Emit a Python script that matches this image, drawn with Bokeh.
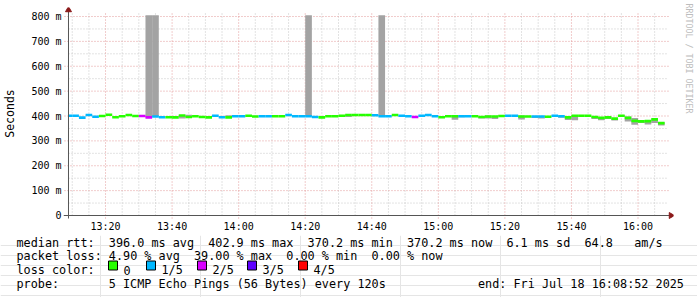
import re
from math import pi
import pandas as pd
from bokeh.plotting import figure
from bokeh.models import Range1d, FixedTicker, DatetimeTickFormatter, LinearAxis, ColumnDataSource
from bokeh.core.properties import value
from bokeh.embed import file_html
from bokeh.resources import INLINE

# ---------------- data ----------------
range_start = "2025-07-18 13:08:52"
range_end = "2025-07-18 16:08:52"
first_step = "2025-07-18 13:08:00"
step_minutes = 2

median_ms = [401, 401, 393, 404, 397, 400, 405, 395, 399, 404,
             400, 400, 394, 398, 395, 395, 394, 402, 396, 399,
             396, 394, 401, 395, 394, 399, 399, 401, 398, 399,
             399, 399, 399, 404, 399, 399, 399, 396, 394, 399,
             399, 401, 404, 404, 404, 404, 403, 399, 399, 404,
             401, 399, 396, 401, 404, 399, 395, 399, 399, 399,
             399, 399, 396, 398, 398, 400, 401, 401, 398, 398,
             398, 398, 397, 401, 399, 394, 401, 401, 401, 396,
             392, 394, 389, 401, 392, 380, 378, 379, 386, 371]
loss_idx = [1, 1, 1, 1, 1, 0, 0, 0, 0, 0,
            0, 2, 2, 1, 1, 0, 0, 0, 0, 0,
            0, 0, 1, 1, 0, 1, 1, 0, 0, 1,
            1, 0, 0, 1, 1, 1, 1, 1, 0, 0,
            0, 0, 0, 0, 0, 0, 1, 1, 1, 0,
            1, 1, 2, 1, 1, 1, 0, 0, 0, 1,
            1, 0, 0, 0, 0, 0, 1, 1, 0, 0,
            1, 1, 0, 1, 1, 0, 0, 0, 0, 0,
            0, 0, 0, 0, 0, 0, 0, 0, 0, 0]

smoke_step = [12, 13, 17, 18, 24, 36, 42, 47, 57, 58, 59, 62, 63, 64, 65, 68,
              70, 71, 74, 75, 76, 79, 80, 81, 82, 83, 84, 85, 86, 87, 88, 89]
smoke_lo = [394, 398, 390, 396, 394, 399, 396, 399, 399, 385, 395, 390, 390, 388, 400, 386,
            392, 390, 393, 384, 383, 388, 383, 388, 382, 396, 378, 365, 372, 366, 372, 362]
smoke_hi = [805, 805, 402, 405, 403, 805, 404, 805, 404, 404, 402, 398, 402, 400, 403, 402,
            400, 400, 400, 396, 401, 398, 394, 398, 390, 404, 398, 392, 384, 384, 390, 375]

loss_labels = ["0", "1/5", "2/5", "3/5", "4/5"]
loss_colors = ["#26ff00", "#00b8ff", "#d800ff", "#5e00ff", "#ff0000"]

y_ticks = [0, 100, 200, 300, 400, 500, 600, 700, 800]
y_tick_labels = ["0", "100 m", "200 m", "300 m", "400 m", "500 m", "600 m", "700 m", "800 m"]
x_tick_labels = ["13:20", "13:40", "14:00", "14:20", "14:40", "15:00", "15:20", "15:40", "16:00"]

row_rtt = "median rtt:  396.0 ms avg  402.9 ms max  370.2 ms min  370.2 ms now  6.1 ms sd  64.8   am/s"
row_loss = "packet loss: 4.90 % avg  39.00 % max  0.00 % min  0.00 % now"
row_color = "loss color:"
row_probe = "probe:       5 ICMP Echo Pings (56 Bytes) every 120s             end: Fri Jul 18 16:08:52 2025"
y_label = "Seconds"
watermark = "RRDTOOL / TOBI OETIKER"

# ---------------- scale helpers (layout) ----------------
def ms(ts):
    return pd.Timestamp(ts).value / 1e6

t0, t1 = ms(range_start), ms(range_end)
step0 = ms(first_step)
step_ms = step_minutes * 60000
day = first_step[:10]

AX_X, AX_Y = 67, 215            # canvas px of the axes crossing
S_PER_PX = 18.0                 # seconds per pixel on the time axis
MS_PER_PX = 800.0 / 199.0       # milliseconds (rtt) per pixel

def xd(px):
    return t0 + (px - AX_X) * S_PER_PX * 1000.0

def yd(py):
    return (AX_Y - py) * MS_PER_PX

FL, FR, FT, FB = 62, 673, 7, 219
W = 697
H1 = 235

MONO = "DejaVu Sans Mono"
MAJOR_C = "#e39a9a"
MINOR_C = "#c6c6c6"
AXIS_C = "#555555"
ARROW_C = "#8b1a1a"

# ---------------- main chart ----------------
p = figure(width=W, height=H1, x_axis_type="datetime", title=None,
           x_range=Range1d(xd(FL), xd(FR)), y_range=Range1d(yd(FB), yd(FT)),
           output_backend="svg", toolbar_location=None,
           min_border_left=FL, min_border_right=W - FR,
           min_border_top=FT, min_border_bottom=H1 - FB)
p.outline_line_color = None
p.background_fill_color = "white"
p.border_fill_color = "white"
p.xgrid.visible = False
p.ygrid.visible = False

x_major = [ms(f"{day} {t}") for t in x_tick_labels]
x_minor = [ms(f"{day} 13:10") + i * 300000 for i in range(36)]
x_minor = [v for v in x_minor if v not in x_major]
y_minor = [v + 50 for v in y_ticks[:-1]]

p.xaxis.ticker = FixedTicker(ticks=x_major, minor_ticks=[])
p.xaxis.formatter = DatetimeTickFormatter(minutes="%H:%M", hourmin="%H:%M",
                                          hours="%H:%M", minsec="%H:%M")
p.yaxis.ticker = FixedTicker(ticks=y_ticks, minor_ticks=[])
p.yaxis.major_label_overrides = {v: s for v, s in zip(y_ticks, y_tick_labels)}
for ax in (p.xaxis, p.yaxis):
    ax.axis_line_color = None
    ax.major_tick_line_color = None
    ax.minor_tick_line_color = None
    ax.major_tick_in = 0
    ax.major_tick_out = 0
    ax.minor_tick_in = 0
    ax.minor_tick_out = 0
    ax.major_label_text_font = MONO
    ax.major_label_text_font_size = "10px"
    ax.major_label_text_color = "#000000"
p.yaxis.major_label_standoff = 2
p.xaxis.major_label_standoff = 1
p.yaxis.axis_label = y_label
p.yaxis.axis_label_text_font = MONO
p.yaxis.axis_label_text_font_size = "11.5px"
p.yaxis.axis_label_text_font_style = "normal"
p.yaxis.axis_label_text_color = "#000000"
p.yaxis.axis_label_standoff = 11

wm = LinearAxis(ticker=FixedTicker(ticks=[]), axis_line_color=None,
                major_tick_out=0, major_tick_in=0, minor_tick_out=0, minor_tick_in=0,
                axis_label=watermark + "\u00a0" * 22,
                axis_label_text_font=MONO, axis_label_text_font_size="8.3px",
                axis_label_text_font_style="normal", axis_label_text_color="#bdbdbd",
                axis_label_standoff=10)
p.add_layout(wm, "right")

# grid (dotted), drawn from the tick lists
p.segment(x0=[xd(AX_X)] * len(y_minor), y0=y_minor, x1=[xd(668)] * len(y_minor), y1=y_minor,
          line_color=MINOR_C, line_dash="1 2", line_width=1)
p.segment(x0=x_minor, y0=[0] * len(x_minor), x1=x_minor, y1=[yd(13)] * len(x_minor),
          line_color=MINOR_C, line_dash="1 2", line_width=1)
p.segment(x0=[xd(63)] * len(y_ticks[1:]), y0=y_ticks[1:], x1=[xd(668)] * len(y_ticks[1:]),
          y1=y_ticks[1:], line_color=MAJOR_C, line_dash="1 2", line_width=1)
p.segment(x0=x_major, y0=[yd(218)] * len(x_major), x1=x_major, y1=[yd(13)] * len(x_major),
          line_color=MAJOR_C, line_dash="1 2", line_width=1)

# smoke
sm = ColumnDataSource(dict(
    left=[step0 + k * step_ms for k in smoke_step],
    right=[step0 + (k + 1) * step_ms for k in smoke_step],
    bottom=smoke_lo, top=smoke_hi))
p.quad(left="left", right="right", bottom="bottom", top="top", source=sm,
       fill_color="#a3a3a3", line_color=None)

# median band coloured by loss
half = 5.5
n = len(median_ms)
md = ColumnDataSource(dict(
    left=[max(step0 + k * step_ms, t0) for k in range(n)],
    right=[step0 + (k + 1) * step_ms for k in range(n)],
    bottom=[m - half for m in median_ms],
    top=[m + half for m in median_ms],
    color=[loss_colors[i] for i in loss_idx]))
p.quad(left="left", right="right", bottom="bottom", top="top", source=md,
       fill_color="color", line_color=None)

# axes lines with arrows
p.segment(x0=[xd(62)], y0=[0], x1=[xd(670)], y1=[0], line_color=AXIS_C, line_width=1)
p.segment(x0=[t0], y0=[yd(218)], x1=[t0], y1=[yd(10)], line_color=AXIS_C, line_width=1)
p.triangle(x=[t0], y=[yd(9.5)], size=6, fill_color=ARROW_C, line_color=ARROW_C)
p.triangle(x=[xd(670.5)], y=[0], size=6, angle=-pi / 2, fill_color=ARROW_C, line_color=ARROW_C)

# ---------------- legend area (second root, directly below) ----------------
H2 = 297 - H1
GAP = 3.5   # vertical offset between the two page roots
q = figure(width=W, height=H2, x_range=Range1d(0, W), y_range=Range1d(H2, 0),
           output_backend="svg", toolbar_location=None, title=None,
           x_axis_location=None, y_axis_location=None,
           min_border=0, min_border_left=0, min_border_right=0,
           min_border_top=0, min_border_bottom=0)
q.outline_line_color = None
q.background_fill_color = "white"
q.border_fill_color = "white"

def qy(Y):
    return Y - H1 - GAP

CW = 7.1
base_y = [245.5, 259.3, 273.2, 287.0]
tx, ty, tt = [], [], []
for row, by in ((row_rtt, base_y[0]), (row_loss, base_y[1]), (row_color, base_y[2]), (row_probe, base_y[3])):
    for m in re.finditer(r"\S+(?: \S+)*", row):
        tx.append(16 + m.start() * CW)
        ty.append(qy(by))
        tt.append(m.group(0))

box_x = [108, 146, 197, 247, 298]
for bx, lab in zip(box_x, loss_labels):
    tx.append(bx + 15)
    ty.append(qy(base_y[2]))
    tt.append(lab)

q.text(x=tx, y=ty, text=tt, text_font=value(MONO), text_font_size=value("11.8px"),
       text_color="#000000", text_align="left", text_baseline="alphabetic")
q.quad(left=box_x, right=[b + 9 for b in box_x], top=[qy(264)] * 5, bottom=[qy(273)] * 5,
       fill_color=loss_colors, line_color="#000000", line_width=1)

open("out.html", "w").write(file_html([p, q], INLINE))
